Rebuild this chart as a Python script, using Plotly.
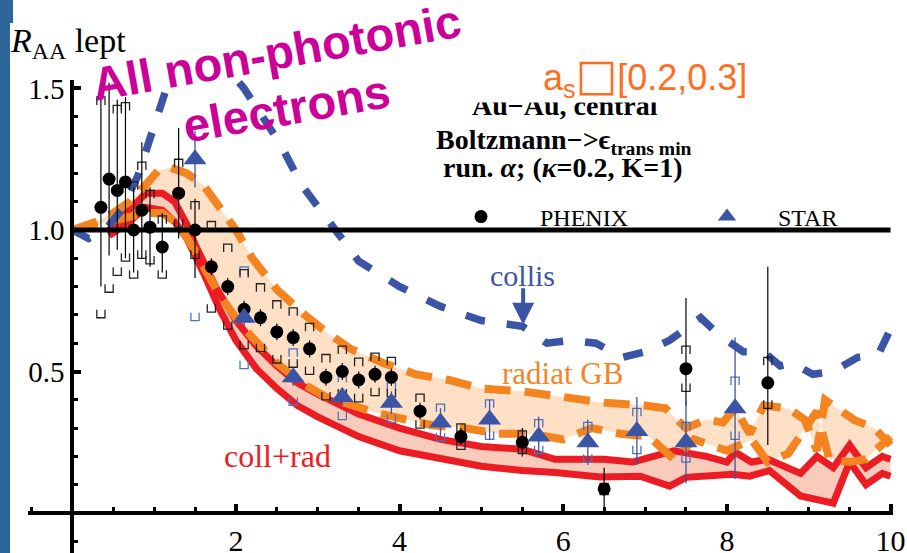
import plotly.graph_objects as go

W, H = 907, 553

# ---------------- data ----------------
PHENIX_PT = [0.35, 0.45, 0.55, 0.65, 0.75, 0.85, 0.95, 1.1, 1.3, 1.5, 1.7, 1.9, 2.1, 2.3,
             2.5, 2.7, 2.9, 3.1, 3.3, 3.5, 3.7, 3.9, 4.25, 4.75, 5.5, 6.5, 7.5, 8.5]
PHENIX_RAA = [1.08, 1.18, 1.14, 1.17, 1.00, 1.07, 1.01, 0.94, 1.13, 1.00, 0.87, 0.80, 0.72, 0.69,
              0.64, 0.62, 0.58, 0.48, 0.50, 0.47, 0.49, 0.48, 0.36, 0.27, 0.25, 0.085, 0.51, 0.46]
PHENIX_STAT_UP = [0.44, 0.34, 0.32, 0.30, 0.15, 0.24, 0.14, 0.12, 0.23, 0.11, 0.03, 0.03, 0.03, 0.03,
                  0.03, 0.03, 0.03, 0.03, 0.03, 0.03, 0.03, 0.03, 0.03, 0.03, 0.05, 0.075, 0.25, 0.41]
PHENIX_STAT_DN = [0.28, 0.27, 0.21, 0.27, 0.15, 0.17, 0.14, 0.09, 0.16, 0.17, 0.03, 0.03, 0.03, 0.03,
                  0.03, 0.03, 0.03, 0.03, 0.03, 0.03, 0.03, 0.03, 0.03, 0.03, 0.05, 0.065, 0.13, 0.22]
PHENIX_SYS = [0.39, 0.40, 0.30, 0.28, 0.17, 0.17, 0.13, 0.11, 0.12, 0.10, 0.16, 0.15, 0.14, 0.12,
              0.11, 0.105, 0.09, 0.08, 0.09, 0.077, 0.075, 0.07, 0.06, 0.045, 0.04, 0.02, 0.08, 0.09]

STAR_PT = [1.5, 2.1, 2.7, 3.3, 3.9, 4.5, 5.1, 5.7, 6.3, 6.9, 7.5, 8.1]
STAR_RAA = [1.25, 0.69, 0.48, 0.41, 0.39, 0.32, 0.33, 0.27, 0.25, 0.29, 0.25, 0.37]
STAR_STAT = [0.10, 0.03, 0.03, 0.03, 0.04, 0.05, 0.07, 0.07, 0.08, 0.12, 0.145, 0.25]
STAR_SYS = [0.57, 0.18, 0.10, 0.08, 0.07, 0.065, 0.07, 0.06, 0.07, 0.08, 0.07, 0.11]

COLLIS_PT = [0, 0.2, 0.4, 0.6, 0.8, 1.0, 1.15, 1.3, 1.5, 1.7, 1.9, 2.1, 2.3, 2.55, 2.8, 3.1, 3.5,
             4.0, 4.5, 5.0, 5.5, 5.8, 6.1, 6.4, 6.72, 7.0, 7.3, 7.68, 7.9, 8.2, 8.45, 8.65, 8.8,
             9.05, 9.3, 9.6, 9.85, 10.0]
COLLIS_RAA = [1.0, 0.97, 1.0, 1.07, 1.19, 1.36, 1.50, 1.58, 1.62, 1.62, 1.57, 1.50, 1.41, 1.30,
              1.16, 1.04, 0.89, 0.80, 0.73, 0.68, 0.66, 0.60, 0.61, 0.60, 0.55, 0.57, 0.61, 0.69,
              0.63, 0.57, 0.57, 0.52, 0.53, 0.49, 0.50, 0.55, 0.56, 0.65]

RADIAT_HI_PT = [0, 0.3, 0.5, 0.7, 0.9, 1.05, 1.2, 1.4, 1.6, 1.8, 2.0, 2.2, 2.5, 2.8, 3.1, 3.4,
                3.8, 4.2, 4.6, 5.0, 5.5, 6.0, 6.5, 7.0, 7.25, 7.5, 7.75, 7.95, 8.1, 8.28, 8.45,
                8.75, 8.95, 9.1, 9.2, 9.55, 9.8, 10.0]
RADIAT_HI_RAA = [1.0, 1.03, 1.06, 1.10, 1.16, 1.21, 1.22, 1.20, 1.16, 1.08, 1.0, 0.90, 0.79, 0.71,
                 0.64, 0.58, 0.53, 0.49, 0.47, 0.44, 0.43, 0.41, 0.39, 0.38, 0.37, 0.30, 0.33,
                 0.32, 0.37, 0.28, 0.38, 0.37, 0.33, 0.22, 0.40, 0.33, 0.30, 0.24]
RADIAT_LO_PT = [0, 0.3, 0.6, 0.9, 1.1, 1.3, 1.45, 1.6, 1.8, 2.0, 2.2, 2.5, 2.8, 3.1, 3.4, 3.7,
                4.0, 4.4, 4.8, 5.2, 5.6, 6.0, 6.35, 6.7, 7.05, 7.35, 7.6, 8.0, 8.3, 8.5, 8.75,
                8.95, 9.1, 9.25, 9.5, 9.7, 10.0]
RADIAT_LO_RAA = [1.0, 1.02, 1.04, 1.06, 1.06, 1.02, 0.95, 0.87, 0.77, 0.69, 0.62, 0.53, 0.46,
                 0.41, 0.38, 0.355, 0.335, 0.31, 0.30, 0.28, 0.28, 0.26, 0.30, 0.28, 0.27, 0.19,
                 0.26, 0.22, 0.26, 0.18, 0.21, 0.30, 0.36, 0.19, 0.18, 0.19, 0.27]

COLLRAD_HI_PT = [0.45, 0.7, 0.9, 1.1, 1.25, 1.4, 1.5, 1.75, 2.0, 2.25, 2.5, 2.75, 3.0, 3.5, 4.0,
                 4.5, 5.0, 5.5, 5.9, 6.5, 6.85, 7.1, 7.35, 7.75, 8.0, 8.1, 8.3, 8.5, 8.9, 9.1,
                 9.3, 9.5, 9.7, 9.9, 10.0]
COLLRAD_HI_RAA = [1.0, 1.07, 1.13, 1.13, 1.10, 1.02, 0.95, 0.80, 0.68, 0.59, 0.52, 0.46, 0.42,
                  0.35, 0.30, 0.26, 0.235, 0.225, 0.19, 0.19, 0.18, 0.20, 0.22, 0.20, 0.18,
                  0.215, 0.18, 0.19, 0.14, 0.20, 0.16, 0.24, 0.16, 0.20, 0.19]
COLLRAD_LO_PT = [0.45, 0.7, 0.9, 1.1, 1.25, 1.4, 1.6, 1.8, 2.0, 2.25, 2.5, 2.75, 3.0, 3.5, 4.0,
                 4.5, 5.0, 5.5, 5.9, 6.45, 6.94, 7.3, 7.5, 8.07, 8.28, 8.52, 8.9, 9.3, 9.5,
                 9.7, 9.9, 10.0]
COLLRAD_LO_RAA = [0.98, 1.03, 1.08, 1.07, 1.03, 0.97, 0.85, 0.72, 0.61, 0.51, 0.44, 0.38, 0.34,
                  0.27, 0.22, 0.19, 0.165, 0.15, 0.143, 0.127, 0.13, 0.095, 0.126, 0.137, 0.13,
                  0.15, 0.06, 0.035, 0.18, 0.10, 0.14, 0.13]

UNITY = 1.0
UNITY_SPAN = [0.0, 10.0]
X_TICKS = [0, 2, 4, 6, 8, 10]
X_TICK_TEXT = ["", "2", "4", "6", "8", "10"]
Y_TICKS = [0.5, 1.0, 1.5]
Y_TICK_TEXT = ["0.5", "1.0", "1.5"]

# ---------------- style ----------------
BLUE = "#3b54a5"
BLUE_LIGHT = "#4f71c2"
ORANGE = "#f4841f"
PEACH = "#fde0c6"
RED = "#ec1c24"
PINK = "#f9cbbb"
MAGENTA = "#cc0099"
SERIF = "Liberation Serif"
SANS = "Liberation Sans"


def P(px, py):
    return px / W, 1 - py / H


def brackets(xs, ys, sys, w=0.05, h=0.028):
    bx, by = [], []
    for x, y, s in zip(xs, ys, sys):
        top, bot = y + s, y - s
        bx += [x - w, x - w, x + w, x + w, None, x - w, x - w, x + w, x + w, None]
        by += [top - h, top, top, top - h, None, bot + h, bot, bot, bot + h, None]
    return bx, by


fig = go.Figure()
nolegend = dict(showlegend=False, hoverinfo="skip")
clear = dict(width=0, color="rgba(0,0,0,0)")

# bands
fig.add_trace(go.Scatter(x=RADIAT_LO_PT, y=RADIAT_LO_RAA, mode="lines", line=clear, **nolegend))
fig.add_trace(go.Scatter(x=RADIAT_HI_PT, y=RADIAT_HI_RAA, mode="lines", line=clear,
                         fill="tonexty", fillcolor=PEACH, **nolegend))
fig.add_trace(go.Scatter(x=COLLRAD_LO_PT, y=COLLRAD_LO_RAA, mode="lines", line=clear, **nolegend))
fig.add_trace(go.Scatter(x=COLLRAD_HI_PT, y=COLLRAD_HI_RAA, mode="lines", line=clear,
                         fill="tonexty", fillcolor=PINK, **nolegend))

# red solid curves
for xs, ys in [(COLLRAD_HI_PT, COLLRAD_HI_RAA), (COLLRAD_LO_PT, COLLRAD_LO_RAA)]:
    fig.add_trace(go.Scatter(x=xs, y=ys, mode="lines", line=dict(color=RED, width=7), **nolegend))
# orange dashed curves
for xs, ys in [(RADIAT_HI_PT, RADIAT_HI_RAA), (RADIAT_LO_PT, RADIAT_LO_RAA)]:
    fig.add_trace(go.Scatter(x=xs, y=ys, mode="lines",
                             line=dict(color=ORANGE, width=8, dash="26px,14px"), **nolegend))
# blue dashed collisional
fig.add_trace(go.Scatter(x=COLLIS_PT, y=COLLIS_RAA, mode="lines",
                         line=dict(color=BLUE, width=7.5, dash="20px,22px"), **nolegend))

# unity line
fig.add_trace(go.Scatter(x=UNITY_SPAN, y=[UNITY, UNITY], mode="lines",
                         line=dict(color="black", width=5), **nolegend))

# STAR systematic brackets
sbx, sby = brackets(STAR_PT, STAR_RAA, STAR_SYS)
fig.add_trace(go.Scatter(x=sbx, y=sby, mode="lines", line=dict(color=BLUE_LIGHT, width=1.3),
                         connectgaps=False, **nolegend))
# PHENIX systematic brackets
pbx, pby = brackets(PHENIX_PT, PHENIX_RAA, PHENIX_SYS)
fig.add_trace(go.Scatter(x=pbx, y=pby, mode="lines", line=dict(color="#222222", width=1.3),
                         connectgaps=False, **nolegend))

fig.add_trace(go.Scatter(
    x=PHENIX_PT, y=PHENIX_RAA, mode="markers", name="PHENIX", legend="legend",
    marker=dict(symbol="circle", size=13, color="black"),
    error_y=dict(type="data", symmetric=False, array=PHENIX_STAT_UP, arrayminus=PHENIX_STAT_DN,
                 color="black", thickness=1.2, width=0),
    hoverinfo="skip"))
fig.add_trace(go.Scatter(
    x=STAR_PT, y=STAR_RAA, mode="markers", name="STAR", legend="legend2",
    marker=dict(symbol="triangle-up", size=20, color=BLUE),
    error_y=dict(type="data", array=STAR_STAT, color=BLUE, thickness=1.3, width=0),
    hoverinfo="skip"))

tickfont = dict(family=SERIF, size=30, color="black")
legfont = dict(family=SERIF, size=24, color="black")
fig.update_layout(
    width=W, height=H,
    margin=dict(l=0, r=0, t=0, b=0, pad=0, autoexpand=False),
    paper_bgcolor="white", plot_bgcolor="white",
    xaxis=dict(domain=[28 / W, 893 / W], range=[-0.541, 10.03], anchor="free",
               position=(H - 513) / H, showline=True, linewidth=4, linecolor="black",
               showgrid=False, zeroline=False, ticks="inside", ticklen=7, tickwidth=4,
               tickcolor="black", tickmode="array", tickvals=X_TICKS, ticktext=X_TICK_TEXT,
               minor=dict(tickmode="linear", tick0=0, dtick=0.5, ticks="inside", ticklen=4,
                          tickwidth=3, tickcolor="black", showgrid=False),
               tickfont=tickfont, automargin=False),
    yaxis=dict(domain=[0, 473 / H], range=[-0.1413, 1.530], anchor="free",
               position=72.3 / W, showline=True, linewidth=4, linecolor="black",
               showgrid=False, zeroline=False, ticks="inside", ticklen=7, tickwidth=4,
               tickcolor="black", tickmode="array", tickvals=Y_TICKS, ticktext=Y_TICK_TEXT,
               minor=dict(tickmode="linear", tick0=0, dtick=0.1, ticks="inside", ticklen=4,
                          tickwidth=3, tickcolor="black", showgrid=False),
               tickfont=dict(family=SERIF, size=29, color="black"), automargin=False),
    legend=dict(x=422 / W, y=1 - 217 / H, xanchor="left", yanchor="middle", font=legfont,
                bgcolor="rgba(0,0,0,0)", itemwidth=108, itemsizing="trace"),
    legend2=dict(x=676 / W, y=1 - 217 / H, xanchor="left", yanchor="middle", font=legfont,
                 bgcolor="rgba(0,0,0,0)", itemwidth=92, itemsizing="trace"),
    showlegend=True,
)

# left slide strip
fig.add_shape(type="rect", xref="paper", yref="paper", x0=0, x1=13 / W, y0=1 - 23 / H, y1=1,
              fillcolor="#2e6699", line=dict(width=0), layer="above")
fig.add_shape(type="rect", xref="paper", yref="paper", x0=0, x1=10 / W, y0=0, y1=1,
              fillcolor="#2e6699", line=dict(width=0), layer="above")

ann = []


def text(px, py, s, size, color="black", family=SERIF, xanchor="center", angle=0, **kw):
    x, y = P(px, py)
    d = dict(x=x, y=y, xref="paper", yref="paper", text=s, showarrow=False,
             xanchor=xanchor, yanchor="middle", textangle=angle,
             font=dict(family=family, size=size, color=color))
    d.update(kw)
    ann.append(d)


text(565, 105, "<b>Au−Au, central</b>", 28)
# white box partially hiding the line above
bx, by = P(603, 75)
ann.append(dict(x=bx, y=by, xref="paper", yref="paper", text=" ", showarrow=False,
                width=283, height=54, bgcolor="white", borderpad=0, xanchor="center",
                yanchor="middle"))
text(541, 76, "a<sub>s</sub><span style=\"font-size:44px;font-family:DejaVu Sans\">□</span>[0.2,0.3]",
     36, color="#ff6d1f", family=SANS, xanchor="left")
text(564, 141, "<b>Boltzmann−>ϵ<sub>trans min</sub></b>", 28)
text(563, 167, "<b>run. <i>α</i>; (<i>κ</i>=0.2, K=1)</b>", 28)

text(8, 43, "<i>R</i><sub>AA</sub> lept", 34, xanchor="left")
text(276, 53, "<b>All non-photonic</b>", 47, color=MAGENTA, family=SANS, angle=-10)
text(286, 108, "<b>electrons</b>", 47, color=MAGENTA, family=SANS, angle=-10)

text(522, 275, "collis", 30, color=BLUE)
text(562, 373, "radiat GB", 31, color="#f2842a")
text(277, 456, "coll+rad", 32, color=RED)

ann.append(dict(x=5.51, y=0.665, xref="x", yref="y", ax=0, ay=-38, axref="pixel",
                ayref="pixel", text="", showarrow=True, arrowhead=2, arrowsize=1.1,
                arrowwidth=4, arrowcolor=BLUE))

fig.update_layout(annotations=ann)
fig.write_html("out.html")
